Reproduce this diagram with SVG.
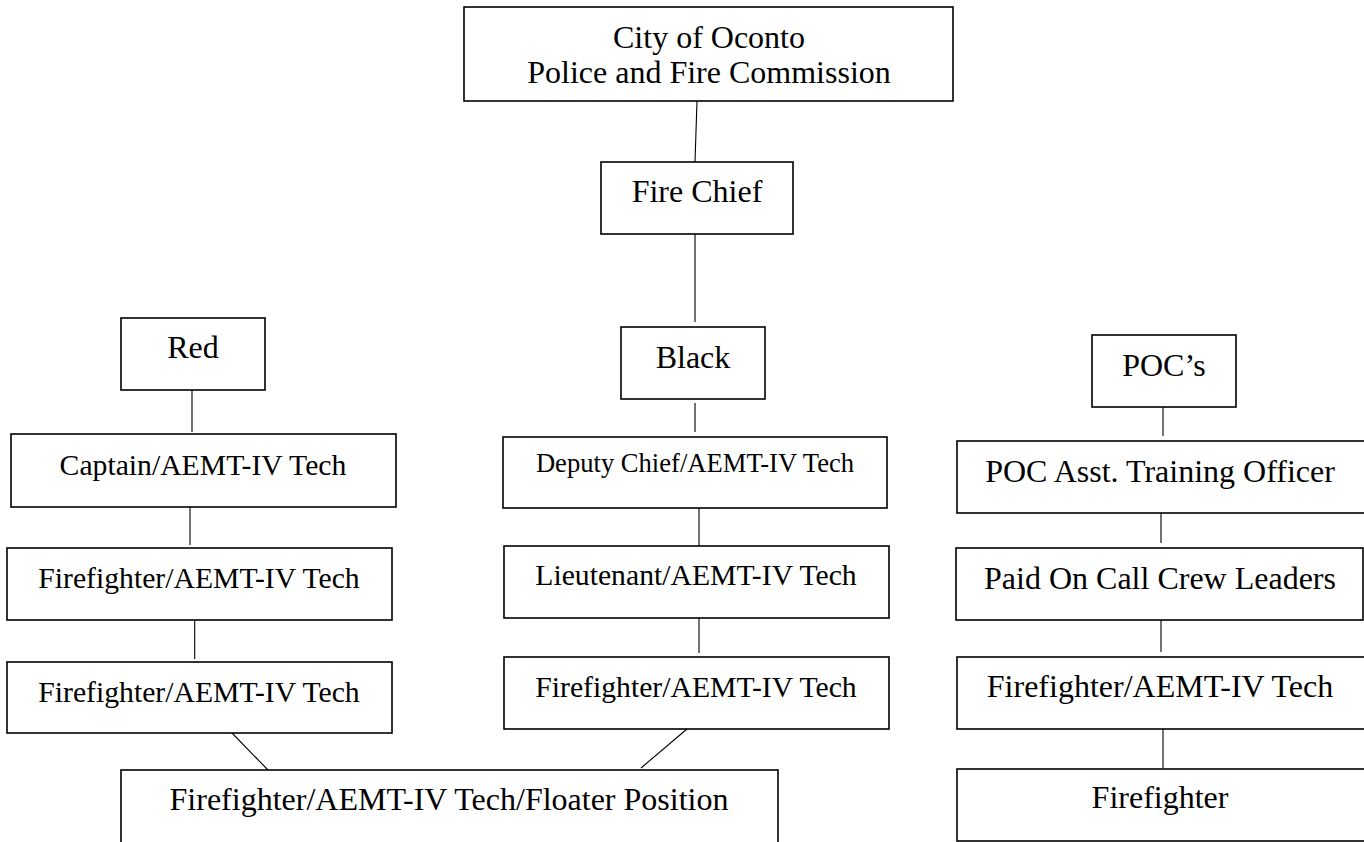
<svg xmlns="http://www.w3.org/2000/svg" width="1364" height="842" viewBox="0 0 1364 842">
<style>
.box{fill:#fff;stroke:#000;stroke-width:1.6}
.t{font-family:"Liberation Serif","Times New Roman",serif;fill:#000;text-anchor:middle}
.l{font-size:32px}
.m{font-size:29.7px}
.s{font-size:26.6px}
.c{stroke:#000;stroke-width:1.1;fill:none}
</style>
<rect width="1364" height="842" fill="#fff"/>
<g id="connectors">
<line class="c" x1="697" y1="101" x2="695" y2="162"/>
<line class="c" x1="695" y1="234" x2="695" y2="322"/>
<line class="c" x1="695" y1="403" x2="695" y2="432"/>
<line class="c" x1="699" y1="508" x2="699" y2="546"/>
<line class="c" x1="699" y1="618" x2="699" y2="653"/>
<line class="c" x1="687" y1="729" x2="641" y2="768"/>
<line class="c" x1="192" y1="390" x2="192" y2="432"/>
<line class="c" x1="190" y1="507" x2="190" y2="545"/>
<line class="c" x1="194.7" y1="620" x2="194.7" y2="659"/>
<line class="c" x1="232" y1="733" x2="268" y2="770"/>
<line class="c" x1="1163" y1="404" x2="1163" y2="436"/>
<line class="c" x1="1161" y1="511" x2="1161" y2="543"/>
<line class="c" x1="1161" y1="620" x2="1161" y2="652"/>
<line class="c" x1="1163" y1="729" x2="1163" y2="768"/>
</g>
<g id="commission">
<rect class="box" x="464" y="7" width="489" height="94"/>
<text class="t l" x="709" y="48">City of Oconto</text>
<text class="t l" x="709" y="83">Police and Fire Commission</text>
</g>
<g id="fire-chief">
<rect class="box" x="601" y="162" width="192" height="72"/>
<text class="t l" x="697" y="202">Fire Chief</text>
</g>
<g id="red">
<rect class="box" x="121" y="318" width="144" height="72"/>
<text class="t l" x="193" y="358">Red</text>
</g>
<g id="black">
<rect class="box" x="621" y="327" width="144" height="72"/>
<text class="t l" x="693" y="368">Black</text>
</g>
<g id="pocs">
<rect class="box" x="1092" y="335" width="144" height="72"/>
<text class="t l" x="1164" y="376">POC’s</text>
</g>
<g id="captain">
<rect class="box" x="11" y="434" width="385" height="73"/>
<text class="t m" x="203" y="475">Captain/AEMT-IV Tech</text>
</g>
<g id="red-ff1">
<rect class="box" x="7" y="548" width="385" height="72"/>
<text class="t m" x="199" y="588">Firefighter/AEMT-IV Tech</text>
</g>
<g id="red-ff2">
<rect class="box" x="7" y="662" width="385" height="71"/>
<text class="t m" x="199" y="702">Firefighter/AEMT-IV Tech</text>
</g>
<g id="deputy">
<rect class="box" x="503" y="437" width="384" height="71"/>
<text class="t s" x="695" y="472">Deputy Chief/AEMT-IV Tech</text>
</g>
<g id="lieutenant">
<rect class="box" x="504" y="546" width="385" height="72"/>
<text class="t m" x="696" y="585">Lieutenant/AEMT-IV Tech</text>
</g>
<g id="black-ff">
<rect class="box" x="504" y="657" width="385" height="72"/>
<text class="t m" x="696" y="697">Firefighter/AEMT-IV Tech</text>
</g>
<g id="floater">
<rect class="box" x="121" y="770" width="657" height="90"/>
<text class="t l" x="449" y="810">Firefighter/AEMT-IV Tech/Floater Position</text>
</g>
<g id="poc-training">
<rect class="box" x="957" y="441" width="410" height="72"/>
<text class="t l" x="1160" y="482">POC Asst. Training Officer</text>
</g>
<g id="poc-crew">
<rect class="box" x="956" y="548" width="407" height="72"/>
<text class="t l" x="1160" y="589">Paid On Call Crew Leaders</text>
</g>
<g id="poc-ff-aemt">
<rect class="box" x="957" y="657" width="410" height="72"/>
<text class="t l" x="1160" y="697">Firefighter/AEMT-IV Tech</text>
</g>
<g id="poc-ff">
<rect class="box" x="957" y="769" width="410" height="72"/>
<text class="t l" x="1160" y="808">Firefighter</text>
</g>
</svg>
